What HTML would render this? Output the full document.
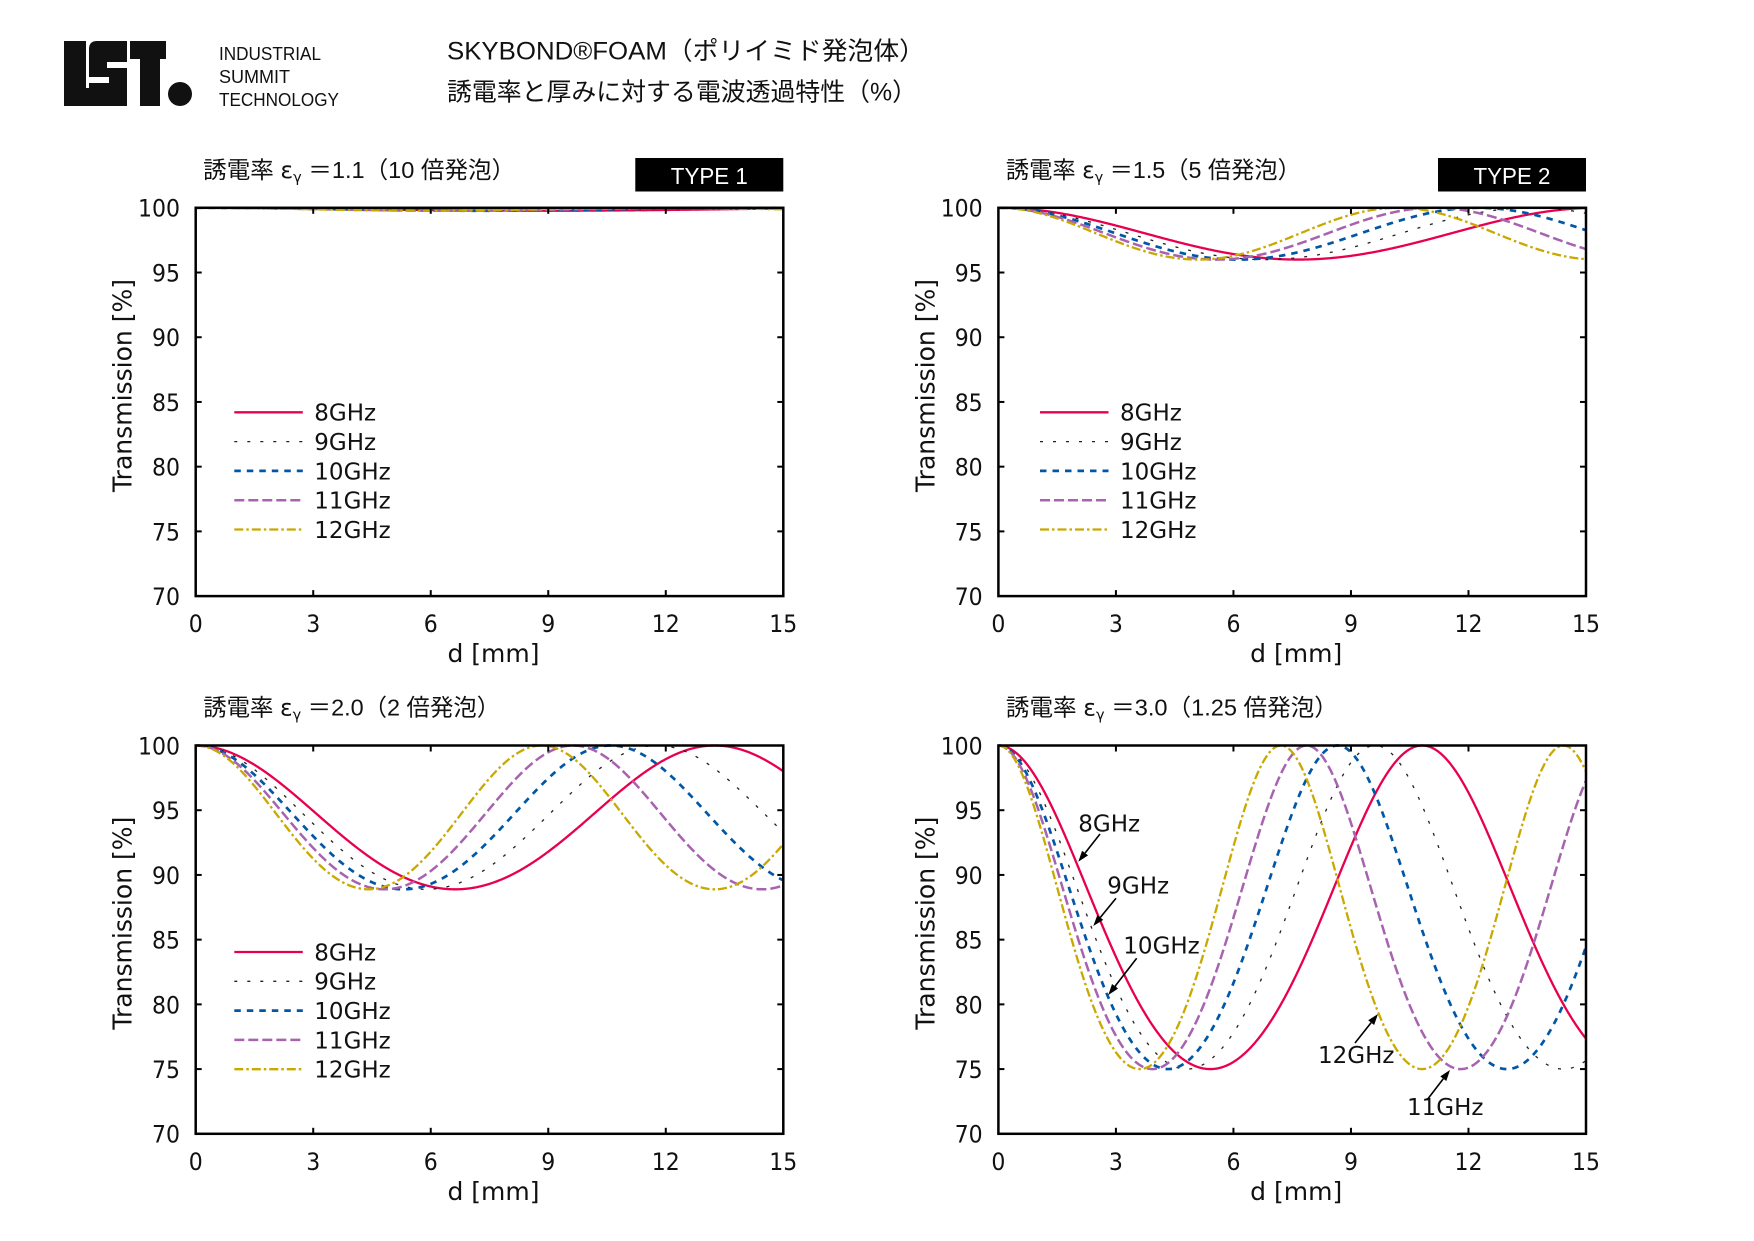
<!DOCTYPE html>
<html><head><meta charset="utf-8">
<style>
html,body{margin:0;padding:0;background:#fff;}
svg{display:block;}
</style></head>
<body>
<svg id="s" width="1754" height="1241" viewBox="0 0 1754 1241" xmlns="http://www.w3.org/2000/svg">
<rect width="1754" height="1241" fill="#fff"/>
<!-- logo -->
<g fill="#111">
  <rect x="64" y="41" width="22" height="65"/>
  <rect x="85" y="88" width="6" height="18"/>
  <path d="M97 41 H127 V62 H107 V68 H127 V106 H89 V83 H109 V77 H89 V49 Q89 41 97 41 Z"/>
  <rect x="130" y="41" width="36" height="18"/>
  <rect x="140" y="41" width="20" height="65"/>
  <circle cx="180" cy="94" r="12"/>
</g>
<g font-family="'Liberation Sans', sans-serif" font-size="18.5" fill="#111">
  <text x="219" y="60" textLength="102" lengthAdjust="spacingAndGlyphs">INDUSTRIAL</text>
  <text x="219" y="83" textLength="71" lengthAdjust="spacingAndGlyphs">SUMMIT</text>
  <text x="219" y="106" textLength="120" lengthAdjust="spacingAndGlyphs">TECHNOLOGY</text>
</g>
<g font-family="'Liberation Sans','Noto Sans CJK JP',sans-serif" font-size="25" fill="#111">
  <text x="447" y="59.5" textLength="478" lengthAdjust="spacingAndGlyphs">SKYBOND®FOAM（ポリイミド発泡体）</text>
  <text x="447" y="100.5" textLength="470" lengthAdjust="spacingAndGlyphs">誘電率と厚みに対する電波透過特性（%）</text>
</g>
<g id="plots"></g>
</svg>
<script>
(function(){
const NS='http://www.w3.org/2000/svg';
const root=document.getElementById('plots');
function el(tag,attrs,parent,text){const e=document.createElementNS(NS,tag);for(const k in attrs)e.setAttribute(k,attrs[k]);if(text!==undefined)e.textContent=text;(parent||root).appendChild(e);return e;}
const W=587.6,H=388.3;
const plots=[
 {x:195.7,y:207.8,eps:1.1,t:'＝1.1（10 倍発泡）',tl:312,type:'TYPE 1',lx:234.3,ly:412.3},
 {x:998.4,y:207.8,eps:1.5,t:'＝1.5（5 倍発泡）',tl:295,type:'TYPE 2',lx:1040,ly:412.3},
 {x:195.7,y:745.5,eps:2.0,t:'＝2.0（2 倍発泡）',tl:297,lx:234.3,ly:952},
 {x:998.4,y:745.5,eps:3.0,t:'＝3.0（1.25 倍発泡）',tl:332}
];
const series=[
 {f:8,c:'#e8004f',w:2.3,d:null,name:'8GHz'},
 {f:9,c:'#222222',w:1.3,d:'3 10',name:'9GHz'},
 {f:10,c:'#0057a8',w:2.7,d:'6.5 6',name:'10GHz'},
 {f:11,c:'#a863b0',w:2.5,d:'10 4',name:'11GHz'},
 {f:12,c:'#c9a900',w:2.3,d:'9 3 2.5 3',name:'12GHz'}
];
const TICKF="'DejaVu Sans', sans-serif";
plots.forEach((p,pi)=>{
  const g=el('g',{});
  const cid='clip'+pi;
  const cp=el('clipPath',{id:cid},g);
  el('rect',{x:p.x,y:p.y-2,width:W,height:H+2},cp);
  const n=Math.sqrt(p.eps),K=0.25*Math.pow(n-1/n,2);
  const cg=el('g',{'clip-path':'url(#'+cid+')'},g);
  series.forEach(s=>{
    let d='';
    const N=900;
    for(let i=0;i<=N;i++){
      const mm=15*i/N;
      const sn=Math.sin(2*Math.PI*s.f*n*mm/299.792);
      const T=100/(1+K*sn*sn);
      const px=p.x+mm*W/15, py=p.y+(100-T)*H/30;
      d+=(i?'L':'M')+px.toFixed(2)+' '+py.toFixed(2);
    }
    const a={d:d,fill:'none',stroke:s.c,'stroke-width':s.w,'stroke-linejoin':'round'};
    if(s.d)a['stroke-dasharray']=s.d;
    el('path',a,cg);
  });
  // frame
  el('rect',{x:p.x,y:p.y,width:W,height:H,fill:'none',stroke:'#000','stroke-width':2.5},g);
  // ticks
  for(let k=0;k<=5;k++){
    const tx=p.x+k*W/5;
    if(k>0&&k<5){
      el('line',{x1:tx,y1:p.y+H,x2:tx,y2:p.y+H-6,stroke:'#000','stroke-width':2},g);
      el('line',{x1:tx,y1:p.y,x2:tx,y2:p.y+6,stroke:'#000','stroke-width':2},g);
    }
    const s=String(k*3);
    el('text',{x:tx,y:p.y+H+36,'text-anchor':'middle','font-family':TICKF,'font-size':24,fill:'#111',textLength:(s.length*14).toFixed(1),lengthAdjust:'spacingAndGlyphs'},g,s);
  }
  for(let k=0;k<=6;k++){
    const v=70+5*k;
    const ty=p.y+H-k*H/6;
    if(k>0&&k<6){
      el('line',{x1:p.x,y1:ty,x2:p.x+6,y2:ty,stroke:'#000','stroke-width':2},g);
      el('line',{x1:p.x+W,y1:ty,x2:p.x+W-6,y2:ty,stroke:'#000','stroke-width':2},g);
    }
    const s=String(v);
    el('text',{x:p.x-15.7,y:ty+8.9,'text-anchor':'end','font-family':TICKF,'font-size':24,fill:'#111',textLength:(s.length*14).toFixed(1),lengthAdjust:'spacingAndGlyphs'},g,s);
  }
  // axis labels
  el('text',{transform:'translate('+(p.x-64)+','+(p.y+H/2-16.5)+') rotate(-90)','text-anchor':'middle','font-family':TICKF,'font-size':26,fill:'#111',textLength:213,lengthAdjust:'spacingAndGlyphs'},g,'Transmission [%]');
  el('text',{x:p.x+W/2+4,y:p.y+H+66,'text-anchor':'middle','font-family':TICKF,'font-size':25,fill:'#111'},g,'d [mm]');
  // title
  const tt=el('text',{x:p.x+7.5,y:p.y-30,'font-family':"'Liberation Sans','Noto Sans CJK JP',sans-serif",'font-size':23.5,fill:'#111',textLength:p.tl,lengthAdjust:'spacingAndGlyphs'},g);
  el('tspan',{},tt,'誘電率 ');
  el('tspan',{'font-family':"'DejaVu Sans',sans-serif"},tt,'ε');
  el('tspan',{'font-family':"'DejaVu Sans',sans-serif",'font-size':14.5,dy:4},tt,'γ');
  el('tspan',{dy:-4},tt,' '+p.t);
  // type box
  if(p.type){
    el('rect',{x:p.x+W-148,y:158,width:148,height:33.5,fill:'#000'},g);
    el('text',{x:p.x+W-74,y:183.8,'text-anchor':'middle','font-family':"'Liberation Sans',sans-serif",'font-size':23,fill:'#fff',textLength:77,lengthAdjust:'spacingAndGlyphs'},g,p.type);
  }
  // legend
  if(p.lx!==undefined){
    series.forEach((s,i)=>{
      const ly=p.ly+29.3*i;
      const a={x1:p.lx,y1:ly,x2:p.lx+68.5,y2:ly,stroke:s.c,'stroke-width':s.w};
      if(s.d)a['stroke-dasharray']=s.d;
      el('line',a,g);
      el('text',{x:p.lx+80,y:ly+8.4,'font-family':TICKF,'font-size':23,fill:'#111'},g,s.name);
    });
  }
});
// annotations on last plot
const ann=[
 {t:'8GHz',tx:1078.3,ty:831.7,x1:1100,y1:834,x2:1078.3,y2:861.7},
 {t:'9GHz',tx:1107.3,ty:893.3,x1:1116,y1:898.3,x2:1093.3,y2:926},
 {t:'10GHz',tx:1123.3,ty:953.3,x1:1136.7,y1:958.3,x2:1108.3,y2:995},
 {t:'12GHz',tx:1318,ty:1063,x1:1355,y1:1043,x2:1378,y2:1014},
 {t:'11GHz',tx:1407,ty:1115,x1:1427,y1:1100,x2:1450,y2:1070}
];
ann.forEach(a=>{
  el('text',{x:a.tx,y:a.ty,'font-family':TICKF,'font-size':23,fill:'#111'},root,a.t);
  const dx=a.x2-a.x1,dy=a.y2-a.y1,L=Math.hypot(dx,dy),ux=dx/L,uy=dy/L;
  const bx=a.x2-11*ux,by=a.y2-11*uy,px=-uy,py=ux;
  el('line',{x1:a.x1,y1:a.y1,x2:bx,y2:by,stroke:'#000','stroke-width':1.6},root);
  el('polygon',{points:a.x2+','+a.y2+' '+(bx+3.8*px)+','+(by+3.8*py)+' '+(bx-3.8*px)+','+(by-3.8*py),fill:'#000'},root);
});
})();
</script>
</body></html>
